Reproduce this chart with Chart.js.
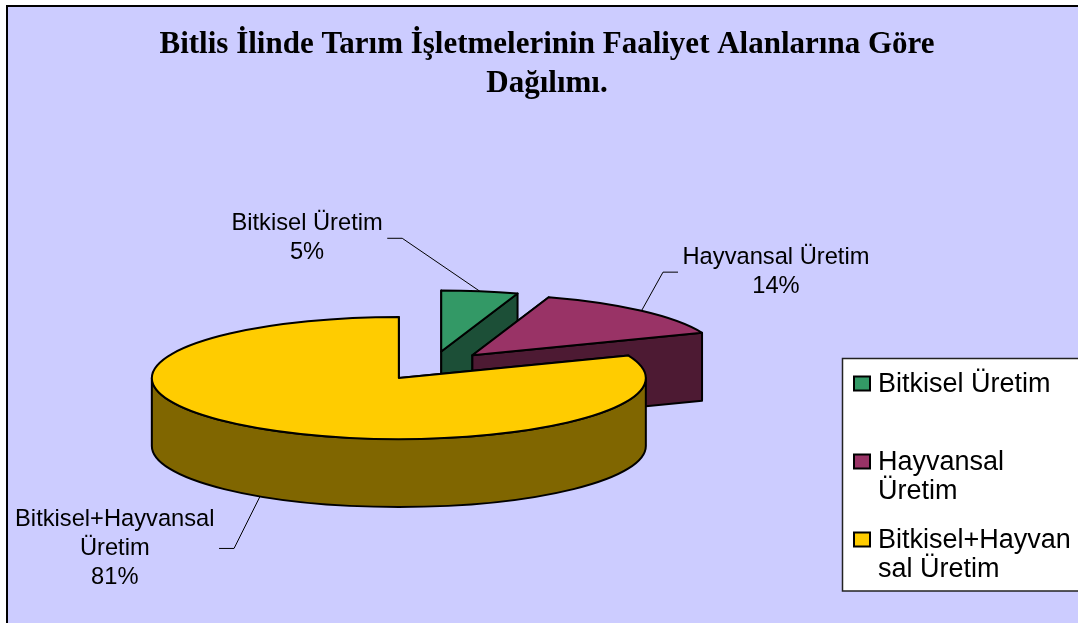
<!DOCTYPE html>
<html>
<head>
<meta charset="utf-8">
<script src="https://cdn.jsdelivr.net/npm/chart.js@4.4.1/dist/chart.umd.min.js"></script>
<style>
  html, body { margin: 0; padding: 0; width: 1078px; height: 623px; overflow: hidden; background: #ffffff; }
  #frame { position: absolute; left: 6px; top: 5px; width: 1100px; height: 700px; border: 2px solid #000; background: #CCCCFF; box-sizing: border-box; }
  #c { position: absolute; left: 0; top: 0; }
</style>
</head>
<body>
<div id="frame"></div>
<canvas id="c" width="1094" height="660"></canvas>
<script>
// ---- data ----
const categories = ['Bitkisel Üretim', 'Hayvansal Üretim', 'Bitkisel+Hayvansal Üretim'];
const shares = [5, 14, 81];
const titleLines = ['Bitlis İlinde Tarım İşletmelerinin Faaliyet Alanlarına Göre', 'Dağılımı.'];
const labelLines = [['Bitkisel Üretim'], ['Hayvansal Üretim'], ['Bitkisel+Hayvansal', 'Üretim']];
const legendLines = [['Bitkisel Üretim'], ['Hayvansal', 'Üretim'], ['Bitkisel+Hayvan', 'sal Üretim']];

// ---- styles ----
const topColors = ['#339966', '#993366', '#FFCC00'];
const sideColors = ['#1C4F37', '#4D1A33', '#806600'];
const TILT = 0.247;     // vertical squash of the pie
const DEPTH = 68;       // thickness of the pie
const EXPLODE = 59;     // explosion distance
const RIGHT_SPACE = 230; // room reserved for the legend
const labelOffsets = [[-172.8, -53], [134.5, -38.7], [-145.2, 52]];
const LABEL_FONT = '23.7px "Liberation Sans", Arial, sans-serif';
const LABEL_PITCH = 28.7;
const LEGEND_FONT = '27px "Liberation Sans", Arial, sans-serif';

function geomOf(arc) {
  const p = arc.getProps(['x', 'y', 'startAngle', 'endAngle', 'outerRadius'], true);
  const mid = (p.startAngle + p.endAngle) / 2;
  const off = arc.options.offset || 0;
  return {
    a0: p.startAngle, a1: p.endAngle, mid,
    cx: p.x + Math.cos(mid) * off,
    cy: p.y + Math.sin(mid) * off * TILT,
    rx: p.outerRadius, ry: p.outerRadius * TILT
  };
}
function pt(g, a, dz) {
  return [g.cx + g.rx * Math.cos(a), g.cy + g.ry * Math.sin(a) + (dz || 0)];
}
function fillStroke(ctx, color) {
  ctx.fillStyle = color;
  ctx.fill();
  ctx.lineWidth = 2;
  ctx.lineJoin = 'round';
  ctx.strokeStyle = '#000';
  ctx.stroke();
}

const pie3d = {
  id: 'pie3d',
  beforeInit(chart) {
    // reserve space on the right (legend area) so the title still spans the full width
    Chart.layouts.addBox(chart, {
      position: 'right', weight: 0, fullSize: false,
      options: { stackWeight: 1 },
      width: 0, height: 0, left: 0, top: 0, right: 0, bottom: 0,
      isHorizontal() { return false; },
      update(maxWidth, maxHeight) { this.width = RIGHT_SPACE; this.height = maxHeight; },
      getPadding() { return { left: 0, top: 0, right: 0, bottom: 0 }; },
      draw() {}
    });
  },
  beforeDatasetsDraw(chart) {
    const ctx = chart.ctx;
    const arcs = chart.getDatasetMeta(0).data;
    ctx.save();
    arcs.forEach((arc, i) => {
      const g = geomOf(arc);
      const side = sideColors[i];
      const faces = [
        { a: g.a0, front: Math.cos(g.a0) < -1e-6 },
        { a: g.a1, front: Math.cos(g.a1) > 1e-6 }
      ].sort((f1, f2) => f1.front - f2.front);
      faces.forEach(f => {
        const p = pt(g, f.a);
        ctx.beginPath();
        ctx.moveTo(g.cx, g.cy);
        ctx.lineTo(p[0], p[1]);
        ctx.lineTo(p[0], p[1] + DEPTH);
        ctx.lineTo(g.cx, g.cy + DEPTH);
        ctx.closePath();
        fillStroke(ctx, side);
      });
      for (let k = -1; k <= 1; k++) {
        const s = Math.max(g.a0, 2 * Math.PI * k);
        const e = Math.min(g.a1, 2 * Math.PI * k + Math.PI);
        if (e > s) {
          ctx.beginPath();
          ctx.ellipse(g.cx, g.cy, g.rx, g.ry, 0, s, e, false);
          ctx.ellipse(g.cx, g.cy + DEPTH, g.rx, g.ry, 0, e, s, true);
          ctx.closePath();
          fillStroke(ctx, side);
        }
      }
      ctx.beginPath();
      ctx.moveTo(g.cx, g.cy);
      ctx.ellipse(g.cx, g.cy, g.rx, g.ry, 0, g.a0, g.a1, false);
      ctx.closePath();
      fillStroke(ctx, topColors[i]);
    });
    ctx.restore();
    return false;
  },
  afterDraw(chart) {
    const ctx = chart.ctx;
    const arcs = chart.getDatasetMeta(0).data;
    ctx.save();
    // data labels with leader lines
    ctx.font = LABEL_FONT;
    ctx.textAlign = 'center';
    ctx.textBaseline = 'middle';
    arcs.forEach((arc, i) => {
      const g = geomOf(arc);
      const front = Math.sin(g.mid) > 0;
      const anchor = pt(g, g.mid, front ? DEPTH : 0);
      const lx = anchor[0] + labelOffsets[i][0];
      const ly = anchor[1] + labelOffsets[i][1];
      const lines = labelLines[i].concat([shares[i] + '%']);
      const w = Math.max(...lines.map(t => ctx.measureText(t).width));
      const sgn = anchor[0] > lx ? 1 : -1;
      const endX = lx + sgn * (w / 2 + 4.5);
      const elbowX = endX + sgn * 15;
      ctx.beginPath();
      ctx.moveTo(endX, ly);
      ctx.lineTo(elbowX, ly);
      ctx.lineTo(anchor[0], anchor[1]);
      ctx.lineWidth = 1;
      ctx.strokeStyle = '#000';
      ctx.stroke();
      ctx.fillStyle = '#000';
      const y0 = ly - (lines.length - 1) * LABEL_PITCH / 2;
      lines.forEach((t, j) => ctx.fillText(t, lx, y0 + j * LABEL_PITCH));
    });
    // legend box
    ctx.fillStyle = '#ffffff';
    ctx.fillRect(842.5, 358.5, 300, 232.5);
    ctx.lineWidth = 1.5;
    ctx.strokeStyle = '#222';
    ctx.strokeRect(842.5, 358.5, 300, 232.5);
    ctx.font = LEGEND_FONT;
    ctx.textAlign = 'left';
    ctx.textBaseline = 'alphabetic';
    categories.forEach((c, i) => {
      const base = 391.5 + i * 78;
      ctx.fillStyle = topColors[i];
      ctx.fillRect(854, base - 15, 16, 14);
      ctx.lineWidth = 2;
      ctx.strokeStyle = '#000';
      ctx.strokeRect(854, base - 15, 16, 14);
      ctx.fillStyle = '#000';
      legendLines[i].forEach((t, j) => ctx.fillText(t, 878, base + j * 29));
    });
    ctx.restore();
  }
};

new Chart(document.getElementById('c'), {
  type: 'pie',
  data: {
    labels: categories,
    datasets: [{
      data: shares,
      backgroundColor: topColors,
      borderColor: '#000',
      borderWidth: 2,
      offset: EXPLODE
    }]
  },
  options: {
    responsive: false,
    animation: false,
    events: [],
    radius: 247,
    layout: { padding: { left: 0, right: 0, top: 0, bottom: 31 } },
    plugins: {
      legend: { display: false },
      tooltip: { enabled: false },
      title: {
        display: true,
        text: titleLines,
        color: '#000',
        font: { family: '"Liberation Serif", "Times New Roman", serif', size: 31, weight: 'bold', lineHeight: 1.24 },
        padding: { top: 26, bottom: 0 }
      }
    }
  },
  plugins: [pie3d]
});
</script>
</body>
</html>
